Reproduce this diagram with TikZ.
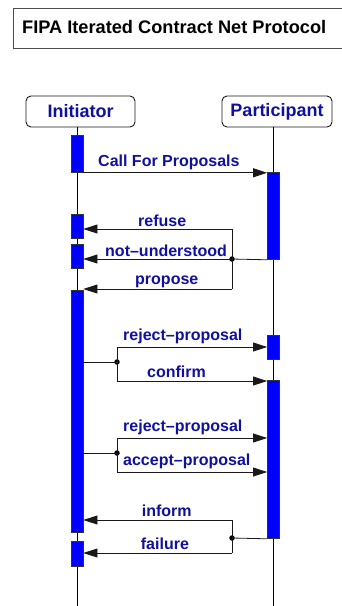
\documentclass[tikz,border=0pt]{standalone}
\usepackage{fontspec}
\setmainfont{Liberation Sans}
\usetikzlibrary{arrows.meta}

\definecolor{msgblue}{RGB}{16,16,160}
\definecolor{barblue}{RGB}{0,0,255}
\definecolor{edgegray}{RGB}{50,50,50}

\tikzset{
  lifeline/.style={draw=black, line width=0.9pt},
  actbar/.style={draw=edgegray, fill=barblue, line width=0.8pt, inner sep=0pt,
                 minimum width=12, anchor=north},
  msg/.style={draw=black!90, line width=0.8pt, -{Triangle[length=14pt,width=9pt]}},
  wire/.style={draw=black!90, line width=0.8pt},
  msglabel/.style={anchor=base west, inner sep=0pt, text=msgblue,
                   font=\fontsize{16}{19}\selectfont\bfseries},
  actor/.style={draw=black!90, rounded corners=5pt, line width=0.9pt, text=msgblue,
                inner sep=0pt, minimum height=31,
                font=\fontsize{18}{21}\selectfont\bfseries},
  junction/.style={circle, fill=black, inner sep=0pt, minimum size=5.5pt},
}

\begin{document}
\begin{tikzpicture}[x=1pt, y=-1pt]
\useasboundingbox (0,0) rectangle (341,606);

% title frame
\node (titlebox) [draw=black!70, line width=1pt, anchor=north west, inner sep=0pt,
                  minimum width=340, minimum height=40] at (13,8) {};
\node (title) [anchor=base west, inner sep=0pt,
               font=\fontsize{18.2}{21}\selectfont\bfseries] at (22,33)
      {FIPA Iterated Contract Net Protocol};

% roles
\node (init) [actor, minimum width=109] at (80.5,111.5) {Initiator};
\node (part) [actor, minimum width=110] at (277,111.5) {Participant};

% lifelines
\coordinate (ibot) at (77,606);
\coordinate (pbot) at (273.5,606);
\draw[lifeline] (ibot |- init.south) -- (ibot);
\draw[lifeline] (pbot |- part.south) -- (pbot);

% activation bars of the initiator
\node (ia) [actbar, minimum height=37]  at (77,135) {};
\node (ib) [actbar, minimum height=24]  at (77,214) {};
\node (ic) [actbar, minimum height=24]  at (77,244) {};
\node (id) [actbar, minimum height=242] at (77,290) {};
\node (ie) [actbar, minimum height=25]  at (77,541) {};

% activation bars of the participant
\node (pa) [actbar, minimum height=87]  at (273.5,172) {};
\node (pb) [actbar, minimum height=24]  at (273.5,335) {};
\node (pc) [actbar, minimum height=158] at (273.5,380) {};

% call for proposals
\draw[msg] (ia.south east) -- (ia.south east -| pa.west);
\node (lcfp) [msglabel] at (98,166) {Call For Proposals};

% replies: refuse / not-understood / propose
\coordinate (r1) at (232,229);
\coordinate (r3) at (232,289);
\node (j1) [junction] at (232,259) {};
\draw[wire] (r1) -- (r3);
\draw[wire] (pa.south west) -- (j1.center);
\draw[msg] (r1) -- (r1 -| ib.east);
\draw[msg] (j1.center) -- (j1.center -| ic.east);
\draw[msg] (r3) -- (r3 -| id.east);
\node (lref) [msglabel] at (138,226.7) {refuse};
\node (lnu)  [msglabel] at (105,256.7) {not--understood};
\node (lpro) [msglabel] at (135,284.3) {propose};

% reject-proposal / confirm
\node (j2) [junction] at (117,362) {};
\coordinate (b1) at (117,347);
\coordinate (b2) at (117,381);
\draw[wire] (j2.center -| id.east) -- (j2.center);
\draw[wire] (b1) -- (b2);
\draw[msg] (b1) -- (b1 -| pb.west);
\draw[msg] (b2) -- (b2 -| pc.west);
\node (lrej1) [msglabel] at (123,340.7) {reject--proposal};
\node (lconf) [msglabel] at (147,377.3) {confirm};

% reject-proposal / accept-proposal
\node (j3) [junction] at (117,453) {};
\coordinate (c1) at (117,438);
\coordinate (c2) at (117,472);
\draw[wire] (j3.center -| id.east) -- (j3.center);
\draw[wire] (c1) -- (c2);
\draw[msg] (c1) -- (c1 -| pc.west);
\draw[msg] (c2) -- (c2 -| pc.west);
\node (lrej2) [msglabel] at (123,431.7) {reject--proposal};
\node (lacc)  [msglabel] at (123,465) {accept--proposal};

% inform / failure
\node (j4) [junction] at (232,538) {};
\coordinate (d1) at (232,520);
\coordinate (d2) at (232,553);
\draw[wire] (d1) -- (d2);
\draw[wire] (pc.south west) -- (j4.center);
\draw[msg] (d1) -- (d1 -| id.east);
\draw[msg] (d2) -- (d2 -| ie.east);
\node (linf) [msglabel] at (141.7,516.7) {inform};
\node (lfail) [msglabel] at (140.7,549.3) {failure};
\end{tikzpicture}
\end{document}
